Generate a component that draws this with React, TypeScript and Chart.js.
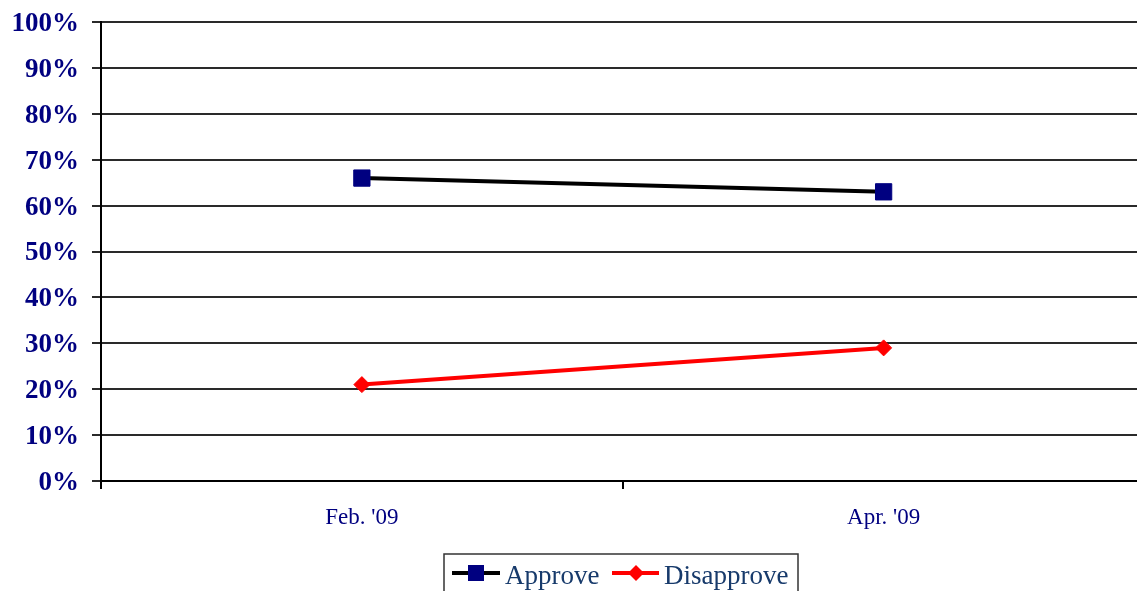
import React, { useEffect, useRef } from "react";
import { Chart, registerables } from "chart.js";

Chart.register(...registerables);

const categories = ["Feb. '09", "Apr. '09"];
const approve = [66, 63];
const disapprove = [21, 29];
const yTicks = [0, 10, 20, 30, 40, 50, 60, 70, 80, 90, 100];
const seriesNames = ["Approve", "Disapprove"];

const legendPlugin = {
  id: "boxLegend",
  afterDraw(chart: any) {
    const ctx = chart.ctx;
    ctx.save();
    const bx = 444, by = 554, bw = 354, bh = 60;
    ctx.strokeStyle = "#333";
    ctx.lineWidth = 1.5;
    ctx.strokeRect(bx, by, bw, bh);
    const ly = 573;
    ctx.lineWidth = 4;
    ctx.strokeStyle = "#000000";
    ctx.beginPath();
    ctx.moveTo(452, ly);
    ctx.lineTo(500, ly);
    ctx.stroke();
    ctx.fillStyle = "#000080";
    ctx.fillRect(476 - 8, ly - 8, 16, 16);
    ctx.strokeStyle = "#ff0000";
    ctx.beginPath();
    ctx.moveTo(612, ly);
    ctx.lineTo(659, ly);
    ctx.stroke();
    ctx.fillStyle = "#ff0000";
    ctx.beginPath();
    ctx.moveTo(636, ly - 8);
    ctx.lineTo(644, ly);
    ctx.lineTo(636, ly + 8);
    ctx.lineTo(628, ly);
    ctx.closePath();
    ctx.fill();
    ctx.fillStyle = "#173a6b";
    ctx.font = "27px 'Liberation Serif', 'Times New Roman', serif";
    ctx.textBaseline = "alphabetic";
    ctx.textAlign = "left";
    ctx.fillText(seriesNames[0], 505, 584);
    ctx.fillText(seriesNames[1], 664, 584);
    ctx.restore();
  },
};

export default function App() {
  const ref = useRef<HTMLCanvasElement>(null);
  useEffect(() => {
    document.body.style.margin = "0";
    const canvas = ref.current!;
    const chart = new Chart(canvas, {
      type: "line",
      data: {
        labels: categories,
        datasets: [
          {
            label: seriesNames[0],
            data: approve,
            borderColor: "#000000",
            backgroundColor: "#000080",
            borderWidth: 4,
            pointStyle: "rect",
            pointRadius: 11.5,
            pointBorderWidth: 1,
            pointBorderColor: "#000080",
            pointBackgroundColor: "#000080",
          },
          {
            label: seriesNames[1],
            data: disapprove,
            borderColor: "#ff0000",
            backgroundColor: "#ff0000",
            borderWidth: 4,
            pointStyle: "rectRot",
            pointRadius: 8,
            pointBorderWidth: 1,
            pointBorderColor: "#ff0000",
            pointBackgroundColor: "#ff0000",
          },
        ],
      },
      options: {
        animation: false,
        responsive: false,
        devicePixelRatio: 1,
        layout: { padding: { top: 22, right: 1, left: 0, bottom: 0 } },
        plugins: { legend: { display: false }, tooltip: { enabled: false } },
        scales: {
          x: {
            type: "category",
            offset: true,
            afterFit(scale: any) {
              scale.height = 110;
            },
            border: { color: "#000", width: 2 },
            grid: {
              offset: true,
              drawOnChartArea: false,
              drawTicks: true,
              tickLength: 8,
              color: "#000",
              lineWidth: 2,
            },
            ticks: {
              color: "#000080",
              padding: 15,
              font: { family: "'Liberation Serif', 'Times New Roman', serif", size: 23 },
            },
          },
          y: {
            min: 0,
            max: 100,
            afterFit(scale: any) {
              scale.width = 101;
              scale.paddingTop = 0;
              scale.paddingBottom = 0;
            },
            afterBuildTicks(scale: any) {
              scale.ticks = yTicks.map((v) => ({ value: v }));
            },
            border: { color: "#000", width: 2 },
            grid: {
              color: "#2a2a2a",
              lineWidth: 2,
              tickLength: 9,
              drawTicks: true,
            },
            ticks: {
              color: "#000080",
              padding: 13,
              labelOffset: 2,
              callback: (v: any) => v + "%",
              font: {
                family: "'Liberation Serif', 'Times New Roman', serif",
                size: 27,
                weight: "bold",
              },
            },
          },
        },
      },
      plugins: [legendPlugin],
    });
    return () => chart.destroy();
  }, []);
  return (
    <div
      style={{
        position: "fixed",
        left: 0,
        top: 0,
        width: 1137,
        height: 591,
        overflow: "hidden",
        background: "#fff",
      }}
    >
      <canvas ref={ref} width={1157} height={591} style={{ display: "block" }} />
    </div>
  );
}
